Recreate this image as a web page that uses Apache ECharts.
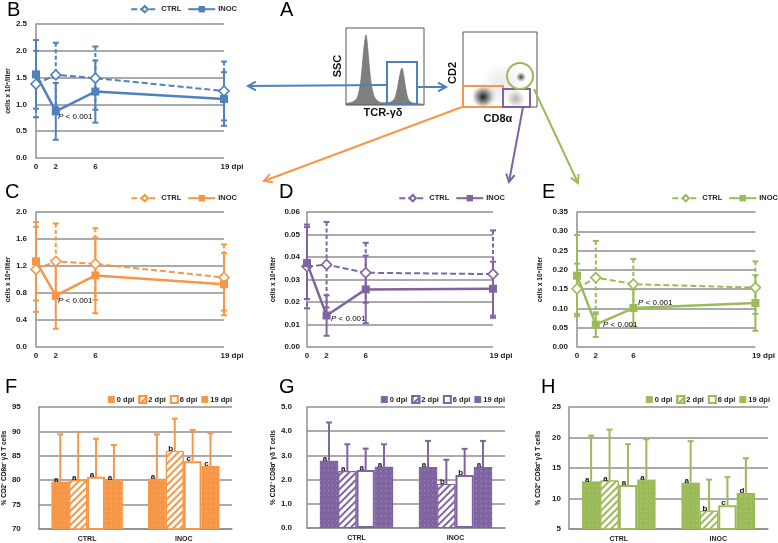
<!DOCTYPE html>
<html><head><meta charset="utf-8">
<script src="https://cdn.jsdelivr.net/npm/echarts@6/dist/echarts.min.js"></script>
<style>html,body{margin:0;padding:0;background:#fff}#c{width:778px;height:543px}</style>
</head><body><div id="c"></div>
<script>
// ---------- DATA ----------
const DPI = [0, 2, 6, 19];
const DPI_TICKS = ['0', '2', '6', '19 dpi'];
const DPI_LABELS = ['0 dpi', '2 dpi', '6 dpi', '19 dpi'];
const GROUPS = ['CTRL', 'INOC'];

const B_CTRL = [1.38, 1.55, 1.49, 1.25];
const B_CTRL_ERR = [0.62, 0.60, 0.59, 0.55];
const B_INOC = [1.56, 0.87, 1.24, 1.10];
const B_INOC_ERR = [0.64, 0.53, 0.58, 0.50];

const C_CTRL = [1.15, 1.27, 1.23, 1.03];
const C_CTRL_ERR = [0.63, 0.56, 0.53, 0.49];
const C_INOC = [1.27, 0.76, 1.06, 0.93];
const C_INOC_ERR = [0.58, 0.49, 0.56, 0.46];

const D_CTRL = [0.0358, 0.0366, 0.0330, 0.0324];
const D_CTRL_ERR = [0.0186, 0.0190, 0.0133, 0.0194];
const D_INOC = [0.0373, 0.0140, 0.0256, 0.0259];
const D_INOC_ERR = [0.016, 0.009, 0.015, 0.012];

const E_CTRL = [0.151, 0.180, 0.163, 0.154];
const E_CTRL_ERR = [0.065, 0.095, 0.065, 0.068];
const E_INOC = [0.185, 0.058, 0.101, 0.114];
const E_INOC_ERR = [0.105, 0.032, 0.048, 0.072];

const F_CTRL = [79.7, 80.0, 80.7, 80.0];
const F_CTRL_TOP = [89.4, 89.9, 88.5, 87.2];
const F_INOC = [80.3, 86.0, 83.9, 82.9];
const F_INOC_TOP = [89.4, 92.6, 90.3, 89.6];
const F_CTRL_LET = ['a', 'a', 'a', 'a'];
const F_INOC_LET = ['a', 'b', 'c', 'c'];

const G_CTRL = [2.78, 2.35, 2.40, 2.53];
const G_CTRL_TOP = [4.36, 3.46, 3.28, 3.46];
const G_INOC = [2.52, 1.82, 2.19, 2.52];
const G_INOC_TOP = [3.60, 2.82, 3.27, 3.60];
const G_CTRL_LET = ['a', 'a', 'a', 'a'];
const G_INOC_LET = ['a', 'b', 'b', 'a'];

const H_CTRL = [12.8, 12.95, 12.2, 13.1];
const H_CTRL_TOP = [20.3, 21.3, 18.9, 19.7];
const H_INOC = [12.6, 8.0, 8.9, 10.9];
const H_INOC_TOP = [19.4, 13.1, 13.5, 16.6];
const H_CTRL_LET = ['a', 'a', 'a', 'a'];
const H_INOC_LET = ['a', 'b', 'c', 'd'];

// histogram (panel A), estimated shape
const HIST_X = [0, 4, 8, 11, 13, 15, 17, 19, 20, 21, 23, 25, 27, 29, 32, 36, 41, 45, 48, 50, 52, 54, 56, 57, 59, 61, 63, 66, 70, 78];
const HIST_Y = [2, 3, 5, 9, 18, 34, 62, 86, 91, 84, 55, 30, 16, 9, 5, 3, 3, 4, 7, 14, 26, 40, 48, 44, 28, 13, 6, 3, 2, 1];

// ---------- STYLE / LAYOUT ----------
const BLUE = '#4F81BD', ORANGE = '#F79646', PURPLE = '#8064A2', GREEN = '#9BBB59';
const FONT = 'Liberation Sans';
const GRIDC = '#8f8f8f';
const LAYOUT = {
  B: {left: 36, top: 24, width: 188, height: 134},
  C: {left: 36, top: 212, width: 188, height: 135},
  D: {left: 307, top: 212, width: 186, height: 135},
  E: {left: 577, top: 212, width: 185, height: 135},
  F: {left: 35, top: 407, width: 197, height: 123},
  G: {left: 307, top: 407, width: 198, height: 121},
  H: {left: 569, top: 407, width: 199, height: 122},
  HIST: {left: 346, top: 28, width: 78, height: 77}
};

const LINE_PANELS = [
  {key: 'B', color: BLUE, ctrl: B_CTRL, ctrlErr: B_CTRL_ERR, inoc: B_INOC, inocErr: B_INOC_ERR, max: 2.5, interval: 0.5, dec: 1, margin: 9, nameGap: 21, legendRight: 541, legendTop: 5},
  {key: 'C', color: ORANGE, ctrl: C_CTRL, ctrlErr: C_CTRL_ERR, inoc: C_INOC, inocErr: C_INOC_ERR, max: 2.0, interval: 0.4, dec: 1, margin: 9, nameGap: 24, legendRight: 541, legendTop: 194},
  {key: 'D', color: PURPLE, ctrl: D_CTRL, ctrlErr: D_CTRL_ERR, inoc: D_INOC, inocErr: D_INOC_ERR, max: 0.06, interval: 0.01, dec: 2, margin: 7, nameGap: 30, legendRight: 273, legendTop: 194},
  {key: 'E', color: GREEN, ctrl: E_CTRL, ctrlErr: E_CTRL_ERR, inoc: E_INOC, inocErr: E_INOC_ERR, max: 0.35, interval: 0.05, dec: 2, margin: 9, nameGap: 33, legendRight: 0, legendTop: 194}
];
const BAR_PANELS = [
  {key: 'F', color: ORANGE, ctrl: F_CTRL, inoc: F_INOC, ctrlTop: F_CTRL_TOP, inocTop: F_INOC_TOP, ctrlLet: F_CTRL_LET, inocLet: F_INOC_LET, min: 70, max: 95, interval: 5, dec: 0, margin: 18, nameGap: 20, legendRight: 546, name: '% CD2\u207B CD8\u03B1\u207B \u03B3\u03B4 T cells'},
  {key: 'G', color: PURPLE, ctrl: G_CTRL, inoc: G_INOC, ctrlTop: G_CTRL_TOP, inocTop: G_INOC_TOP, ctrlLet: G_CTRL_LET, inocLet: G_INOC_LET, min: 0, max: 5, interval: 1, dec: 1, margin: 15, nameGap: 28, legendRight: 273, name: '% CD2\u207B CD8\u03B1\u207A \u03B3\u03B4 T cells'},
  {key: 'H', color: GREEN, ctrl: H_CTRL, inoc: H_INOC, ctrlTop: H_CTRL_TOP, inocTop: H_INOC_TOP, ctrlLet: H_CTRL_LET, inocLet: H_INOC_LET, min: 5, max: 25, interval: 5, dec: 0, margin: 8, nameGap: 27, legendRight: 8, name: '% CD2\u207A CD8\u03B1\u207A \u03B3\u03B4 T cells'}
];

const grid = [], xAxis = [], yAxis = [], series = [], legend = [];
const axisLabelBase = {fontFamily: FONT, fontSize: 8, fontWeight: 'bold', color: '#222'};

function lineErr(color, dashed) {
  return function (params, api) {
    const x = api.value(0), m = api.value(1), e = api.value(2);
    const t = api.coord([x, m + e]), b = api.coord([x, m - e]);
    const cap = 3;
    const st = {stroke: color, lineWidth: 2};
    if (dashed) st.lineDash = [4, 2.5];
    return {type: 'group', children: [
      {type: 'line', shape: {x1: t[0], y1: t[1], x2: b[0], y2: b[1]}, style: st},
      {type: 'line', shape: {x1: t[0] - cap, y1: t[1], x2: t[0] + cap, y2: t[1]}, style: {stroke: color, lineWidth: 2}},
      {type: 'line', shape: {x1: b[0] - cap, y1: b[1], x2: b[0] + cap, y2: b[1]}, style: {stroke: color, lineWidth: 2}}
    ]};
  };
}
function barErr(color) {
  return function (params, api) {
    const c = api.value(0), i = api.value(1), m = api.value(2), t = api.value(3);
    const p0 = api.coord([c, m]), p1 = api.coord([c, t]);
    const cw = api.size([1, 0])[0];
    const tot = cw * 0.74, bw = tot / 4;
    const x = p0[0] - tot / 2 + (i + 0.5) * bw;
    const cap = 3;
    return {type: 'group', children: [
      {type: 'line', shape: {x1: x, y1: p0[1], x2: x, y2: p1[1]}, style: {stroke: color, lineWidth: 2}},
      {type: 'line', shape: {x1: x - cap, y1: p1[1], x2: x + cap, y2: p1[1]}, style: {stroke: color, lineWidth: 2}}
    ]};
  };
}

let gi = 0;
LINE_PANELS.forEach(p => {
  const L = LAYOUT[p.key];
  grid.push({left: L.left, top: L.top, width: L.width, height: L.height, containLabel: false});
  xAxis.push({gridIndex: gi, type: 'value', min: 0, max: 19, interval: 1,
    axisLine: {show: false}, axisTick: {show: false}, splitLine: {show: false},
    axisLabel: Object.assign({}, axisLabelBase, {margin: 5, showMaxLabel: true, showMinLabel: true,
      formatter: v => { const k = DPI.indexOf(v); if (k < 0) return ''; return k === 3 ? '{sp|}' + DPI_TICKS[k] : DPI_TICKS[k]; },
      rich: {sp: {width: 16}}})});
  yAxis.push({gridIndex: gi, type: 'value', min: 0, max: p.max, interval: p.interval,
    name: 'cells x 10\u2079/liter', nameLocation: 'middle', nameGap: p.nameGap,
    nameTextStyle: {fontFamily: FONT, fontSize: 6.5, fontWeight: 'bold', color: '#111'},
    axisLine: {show: true, lineStyle: {color: GRIDC, width: 1.5}}, axisTick: {show: false},
    splitLine: {show: true, lineStyle: {color: GRIDC, width: 1.5}},
    axisLabel: Object.assign({}, axisLabelBase, {margin: p.margin, formatter: v => v.toFixed(p.dec)})});
  const mk = arr => DPI.map((x, i) => [x, arr[i]]);
  const mkE = (m, e) => DPI.map((x, i) => [x, m[i], e[i]]);
  series.push({type: 'custom', xAxisIndex: gi, yAxisIndex: gi, renderItem: lineErr(p.color, true), data: mkE(p.ctrl, p.ctrlErr), encode: {x: 0, y: 1}, silent: true, z: 1});
  series.push({type: 'custom', xAxisIndex: gi, yAxisIndex: gi, renderItem: lineErr(p.color, false), data: mkE(p.inoc, p.inocErr), encode: {x: 0, y: 1}, silent: true, z: 1});
  series.push({name: p.key + '_CTRL', type: 'line', xAxisIndex: gi, yAxisIndex: gi, data: mk(p.ctrl),
    symbol: 'diamond', symbolSize: 10, itemStyle: {color: '#fff', borderColor: p.color, borderWidth: 1.6},
    lineStyle: {color: p.color, width: 2, type: [6, 3]}, z: 3, animation: false});
  series.push({name: p.key + '_INOC', type: 'line', xAxisIndex: gi, yAxisIndex: gi, data: mk(p.inoc),
    symbol: 'rect', symbolSize: 8, itemStyle: {color: p.color},
    lineStyle: {color: p.color, width: 2.5}, z: 4, animation: false});
  legend.push({data: [p.key + '_CTRL', p.key + '_INOC'], right: p.legendRight, top: p.legendTop, itemWidth: 27, itemHeight: 8, itemGap: 6,
    formatter: n => n.split('_')[1], textStyle: {fontFamily: FONT, fontSize: 7.5, fontWeight: 'bold', color: '#222', padding: [0, 0, 0, -2]},
    padding: 0, selectedMode: false});
  gi++;
});

BAR_PANELS.forEach(p => {
  const L = LAYOUT[p.key];
  grid.push({left: L.left, top: L.top, width: L.width, height: L.height});
  xAxis.push({gridIndex: gi, type: 'category', data: GROUPS,
    axisLine: {show: true, lineStyle: {color: GRIDC, width: 1.5}}, axisTick: {show: false},
    axisLabel: Object.assign({}, axisLabelBase, {fontSize: 7, margin: 7})});
  yAxis.push({gridIndex: gi, type: 'value', min: p.min, max: p.max, interval: p.interval,
    name: p.name, nameLocation: 'middle', nameGap: p.nameGap,
    nameTextStyle: {fontFamily: FONT, fontSize: 6.5, fontWeight: 'bold', color: '#111'},
    axisLine: {show: true, lineStyle: {color: GRIDC, width: 1.5}}, axisTick: {show: false},
    splitLine: {show: true, lineStyle: {color: GRIDC, width: 1.5}},
    axisLabel: Object.assign({}, axisLabelBase, {margin: p.margin, formatter: v => v.toFixed(p.dec)})});
  const styles = [
    {color: p.color, decal: {symbol: 'rect', symbolSize: 1, dashArrayX: [1, 3], dashArrayY: [1, 4], color: 'rgba(255,255,255,0.22)'}},
    {color: '#fff', borderColor: p.color, borderWidth: 1, decal: {symbol: 'rect', symbolSize: 1, dashArrayX: [1, 0], dashArrayY: [2, 2.2], rotation: -Math.PI / 4, color: p.color}},
    {color: '#fff', borderColor: p.color, borderWidth: 2},
    {color: p.color, decal: {symbol: 'circle', symbolSize: 0.7, dashArrayX: [2, 3], dashArrayY: [2, 3], color: 'rgba(255,255,255,0.3)'}}
  ];
  const names = [];
  DPI_LABELS.forEach((lab, i) => {
    const nm = p.key + '_' + lab;
    names.push(nm);
    const lets = [p.ctrlLet[i], p.inocLet[i]];
    series.push({name: nm, type: 'bar', xAxisIndex: gi, yAxisIndex: gi, data: [p.ctrl[i], p.inoc[i]],
      barGap: '0%', barCategoryGap: '26%', itemStyle: styles[i], clip: true, animation: false,
      label: {show: true, position: 'top', distance: 0, offset: [-4, 2], formatter: prm => lets[prm.dataIndex],
        fontFamily: FONT, fontSize: 8, fontWeight: 'bold', color: '#111'}});
  });
  const errData = [];
  DPI.forEach((d, i) => {
    errData.push([0, i, p.ctrl[i], p.ctrlTop[i]]);
    errData.push([1, i, p.inoc[i], p.inocTop[i]]);
  });
  series.push({type: 'custom', xAxisIndex: gi, yAxisIndex: gi, renderItem: barErr(p.color), data: errData, encode: {x: 0, y: 3}, silent: true, z: 5});
  legend.push({data: names, right: p.legendRight, top: 395, itemWidth: 7, itemHeight: 7, itemGap: 4, icon: 'rect',
    formatter: n => n.split('_')[1], textStyle: {fontFamily: FONT, fontSize: 7.5, fontWeight: 'bold', color: '#222', padding: [0, 0, 0, -3]},
    padding: 0, selectedMode: false});
  gi++;
});

// histogram grid for panel A
const HL = LAYOUT.HIST;
grid.push({left: HL.left, top: HL.top, width: HL.width, height: HL.height});
xAxis.push({gridIndex: gi, type: 'value', min: 0, max: 78, show: false});
yAxis.push({gridIndex: gi, type: 'value', min: 0, max: 100, show: false});
series.push({type: 'line', xAxisIndex: gi, yAxisIndex: gi, data: HIST_X.map((x, i) => [x, HIST_Y[i]]),
  smooth: 0.35, symbol: 'none', lineStyle: {color: '#6a6a6a', width: 0.6}, areaStyle: {color: '#7f7f7f', opacity: 1}, animation: false, silent: true});

// ---------- GRAPHIC (panel letters, gating diagram, arrows, p-values) ----------
const graphic = [];
function letter(t, x, y) {
  graphic.push({type: 'text', left: x, top: y, style: {text: t, font: '20px ' + FONT, fill: '#000'}});
}
letter('B', 7, 0); letter('A', 280, 0); letter('C', 5, 182); letter('D', 279, 182); letter('E', 542, 182);
letter('F', 5, 377); letter('G', 279, 377); letter('H', 541, 377);

function arrow(x1, y1, x2, y2, color) {
  const a = Math.atan2(y2 - y1, x2 - x1), len = 9, sp = 0.5;
  graphic.push({type: 'line', shape: {x1, y1, x2, y2}, style: {stroke: color, lineWidth: 2}, z: 10});
  graphic.push({type: 'polyline', shape: {points: [
    [x2 - len * Math.cos(a - sp), y2 - len * Math.sin(a - sp)], [x2, y2], [x2 - len * Math.cos(a + sp), y2 - len * Math.sin(a + sp)]]},
    style: {stroke: color, lineWidth: 2, fill: null}, z: 10});
}
// boxes
graphic.push({type: 'rect', shape: {x: 346, y: 28, width: 78, height: 77}, style: {stroke: '#555', fill: null, lineWidth: 1}, z: 5});
graphic.push({type: 'rect', shape: {x: 463, y: 32, width: 74, height: 75}, style: {stroke: '#555', fill: null, lineWidth: 1}, z: 5});
// dot plot density (stylised)
function blob(cx, cy, rx, ry, c0, rot) {
  graphic.push({type: 'ellipse', shape: {cx: 0, cy: 0, rx, ry}, x: cx, y: cy, rotation: rot || 0,
    style: {fill: {type: 'radial', x: 0.5, y: 0.5, r: 0.5, colorStops: [{offset: 0, color: c0}, {offset: 1, color: 'rgba(80,80,80,0)'}]}}, z: 4});
}
blob(502, 84, 34, 22, 'rgba(130,130,130,0.16)');
blob(484, 96, 28, 13, 'rgba(70,70,70,0.5)');
blob(483, 97, 21, 10, 'rgba(25,25,25,0.95)');
blob(516, 99, 14, 9, 'rgba(90,90,90,0.45)');
blob(521, 77, 5, 11, 'rgba(35,35,35,0.9)', -0.6);
// gates
graphic.push({type: 'rect', shape: {x: 387, y: 62, width: 30, height: 42}, style: {stroke: BLUE, fill: null, lineWidth: 2}, z: 11});
graphic.push({type: 'rect', shape: {x: 463, y: 86, width: 40, height: 21}, style: {stroke: ORANGE, fill: null, lineWidth: 2}, z: 11});
graphic.push({type: 'rect', shape: {x: 503, y: 89, width: 27, height: 18}, style: {stroke: PURPLE, fill: null, lineWidth: 2}, z: 11});
graphic.push({type: 'circle', shape: {cx: 520, cy: 76, r: 13}, style: {stroke: GREEN, fill: null, lineWidth: 2}, z: 11});
// axis labels of the gating plots
graphic.push({type: 'text', x: 338, y: 66, rotation: Math.PI / 2, style: {text: 'SSC', font: 'bold 11px ' + FONT, fill: '#111', align: 'center', verticalAlign: 'middle'}, z: 6});
graphic.push({type: 'text', x: 383, y: 113, style: {text: 'TCR-\u03B3\u03B4', font: 'bold 11px ' + FONT, fill: '#111', align: 'center', verticalAlign: 'middle'}, z: 6});
graphic.push({type: 'text', x: 453, y: 73, rotation: Math.PI / 2, style: {text: 'CD2', font: 'bold 11px ' + FONT, fill: '#111', align: 'center', verticalAlign: 'middle'}, z: 6});
graphic.push({type: 'text', x: 498, y: 119, style: {text: 'CD8\u03B1', font: 'bold 11px ' + FONT, fill: '#111', align: 'center', verticalAlign: 'middle'}, z: 6});
// arrows
arrow(387, 85, 248, 86, BLUE);
arrow(417, 87, 446, 87, BLUE);
arrow(462, 107, 264, 181, ORANGE);
arrow(523, 107, 509, 182, PURPLE);
arrow(534, 89, 578, 183, GREEN);
// p-values
function pval(x, y) {
  graphic.push({type: 'text', x, y, style: {text: '{i|P} < 0.001', font: '8px ' + FONT, fill: '#000', verticalAlign: 'middle',
    rich: {i: {fontStyle: 'italic', fontSize: 8, fontFamily: FONT}}}, z: 20});
}
pval(58, 117); pval(58, 301); pval(331, 319); pval(603, 325); pval(638, 303);

const chart = echarts.init(document.getElementById('c'), null, {renderer: 'canvas'});
chart.setOption({backgroundColor: '#fff', animation: false, grid, xAxis, yAxis, series, legend, graphic});
</script></body></html>
